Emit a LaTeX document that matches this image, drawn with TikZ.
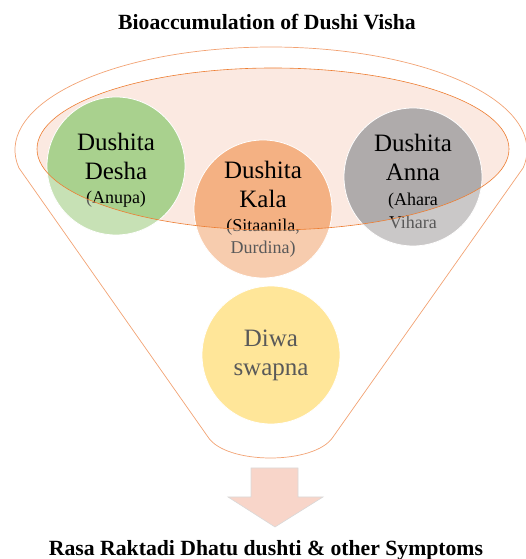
\documentclass[tikz,border=0pt]{standalone}
\usepackage{fontspec}
\setmainfont{Liberation Serif}
\definecolor{deshagreen}{HTML}{A9D18E}
\definecolor{kalaorange}{HTML}{F4B183}
\definecolor{annagrey}{HTML}{AFABAB}
\definecolor{diwayellow}{HTML}{FFE699}
\definecolor{diwatext}{HTML}{595959}
\definecolor{rimfill}{HTML}{FBE9E1}
\definecolor{rimline}{HTML}{ED7D31}
\definecolor{funnelline}{HTML}{F2A273}
\definecolor{arrowfill}{HTML}{F8D5C9}
\newcommand{\smalltxt}{\fontsize{18}{23}\selectfont}
\begin{document}
\begin{tikzpicture}[x=1pt,y=1pt,
    ball/.style={circle, minimum size=138pt, inner sep=0pt, draw=white, line width=0.8pt,
                 align=center, font=\fontsize{25}{29}\selectfont},
    funnel/.style={draw=funnelline, line width=0.7pt},
    heading/.style={font=\bfseries\fontsize{21.7}{26}\selectfont, anchor=base}]
  \useasboundingbox (0,0) rectangle (526,559);

  \node[heading] (title) at (267,529) {Bioaccumulation of Dushi Visha};

  % funnel body and rim
  \draw[funnel] (208,122) -- (18.9,391.1)
      arc[start angle=190, end angle=-10, x radius=256, y radius=103]
      -- (333,122) .. controls (315,94) and (226,94) .. (208,122);
  \fill[rimfill] (273,410) ellipse [x radius=236, y radius=81];

  \node[ball, fill=deshagreen] (desha) at (116,393) {\mbox{}\\[-3pt]Dushita\\Desha\\[-5pt]{\smalltxt(Anupa)}};
  \node[ball, fill=kalaorange] (kala) at (263,350) {Dushita\\Kala\\[-5pt]{\smalltxt(Sitaanila,}\\[-7pt]{\smalltxt Durdina)}};
  \node[ball, fill=annagrey] (anna) at (413,382) {\mbox{}\\[-3pt]Dushita\\Anna\\[-4pt]{\smalltxt(Ahara}\\[-6pt]{\smalltxt Vihara}};
  \node[ball, fill=diwayellow, text=diwatext] (diwa) at (271,204) {Diwa\\swapna};

  % fade the parts hanging below the rim
  \foreach \b in {desha,kala,anna}{
    \begin{scope}
      \clip (\b.center) circle (69.4);
      \fill[white, opacity=0.35, even odd rule] (0,0) rectangle (526,559)
          (273,410) ellipse [x radius=236, y radius=81];
    \end{scope}
  }
  \draw[rimline, line width=0.6pt] (273,410) ellipse [x radius=236, y radius=81];

  % down arrow
  \draw[fill=arrowfill, draw=gray!30, line width=0.6pt] (251,91) -- (298,91) -- (298,62) -- (323,62)
      -- (275,32) -- (228,62) -- (251,62) -- cycle;

  \node[heading] (result) at (266,4) {Rasa Raktadi Dhatu dushti \& other Symptoms};
\end{tikzpicture}
\end{document}
